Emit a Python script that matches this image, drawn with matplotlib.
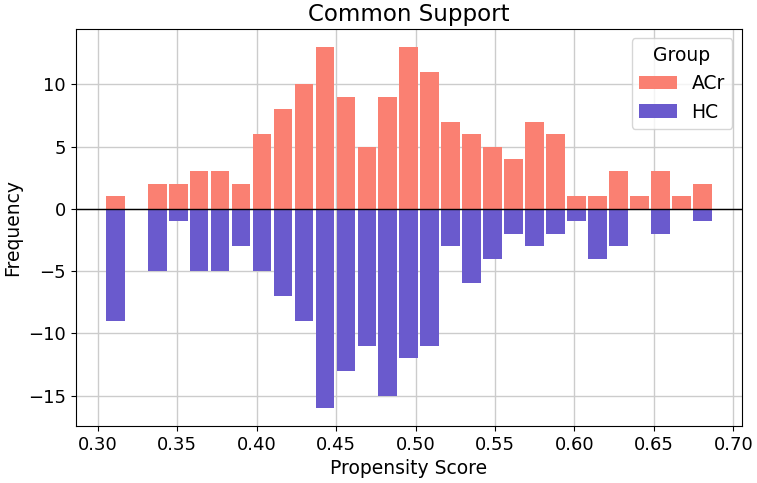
import numpy as np
import matplotlib.pyplot as plt

# Histogram bin range (propensity score) and counts per bin
score_min = 0.3045
score_max = 0.687
n_bins = 29
acr_counts = [1, 0, 2, 2, 3, 3, 2, 6, 8, 10, 13, 9, 5, 9, 13, 11, 7, 6, 5, 4, 7, 6, 1, 1, 3, 1, 3, 1, 2]
hc_counts = [9, 0, 5, 1, 5, 5, 3, 5, 7, 9, 16, 13, 11, 15, 12, 11, 3, 6, 4, 2, 3, 2, 1, 4, 3, 0, 2, 0, 1]

edges = np.linspace(score_min, score_max, n_bins + 1)
centers = (edges[:-1] + edges[1:]) / 2
width = (edges[1] - edges[0]) * 0.89

fig, ax = plt.subplots(figsize=(7.57, 4.83), dpi=100)
ax.bar(centers, acr_counts, width=width, color='salmon', label='ACr', zorder=2)
ax.bar(centers, -np.array(hc_counts), width=width, color='slateblue', label='HC', zorder=2)
ax.axhline(0, color='black', linewidth=1, zorder=3)

ax.set_title('Common Support', fontsize=16.5)
ax.set_xlabel('Propensity Score', fontsize=13.5)
ax.set_ylabel('Frequency', fontsize=13.5)
ax.tick_params(labelsize=13)
ax.grid(True, color='#cccccc', linewidth=1, zorder=0)
ax.set_axisbelow(True)
ax.legend(title='Group', fontsize=13.5, title_fontsize=13.5, loc='upper right')

fig.subplots_adjust(left=0.1, right=0.98, top=0.94, bottom=0.118)
fig.savefig('out.png')
